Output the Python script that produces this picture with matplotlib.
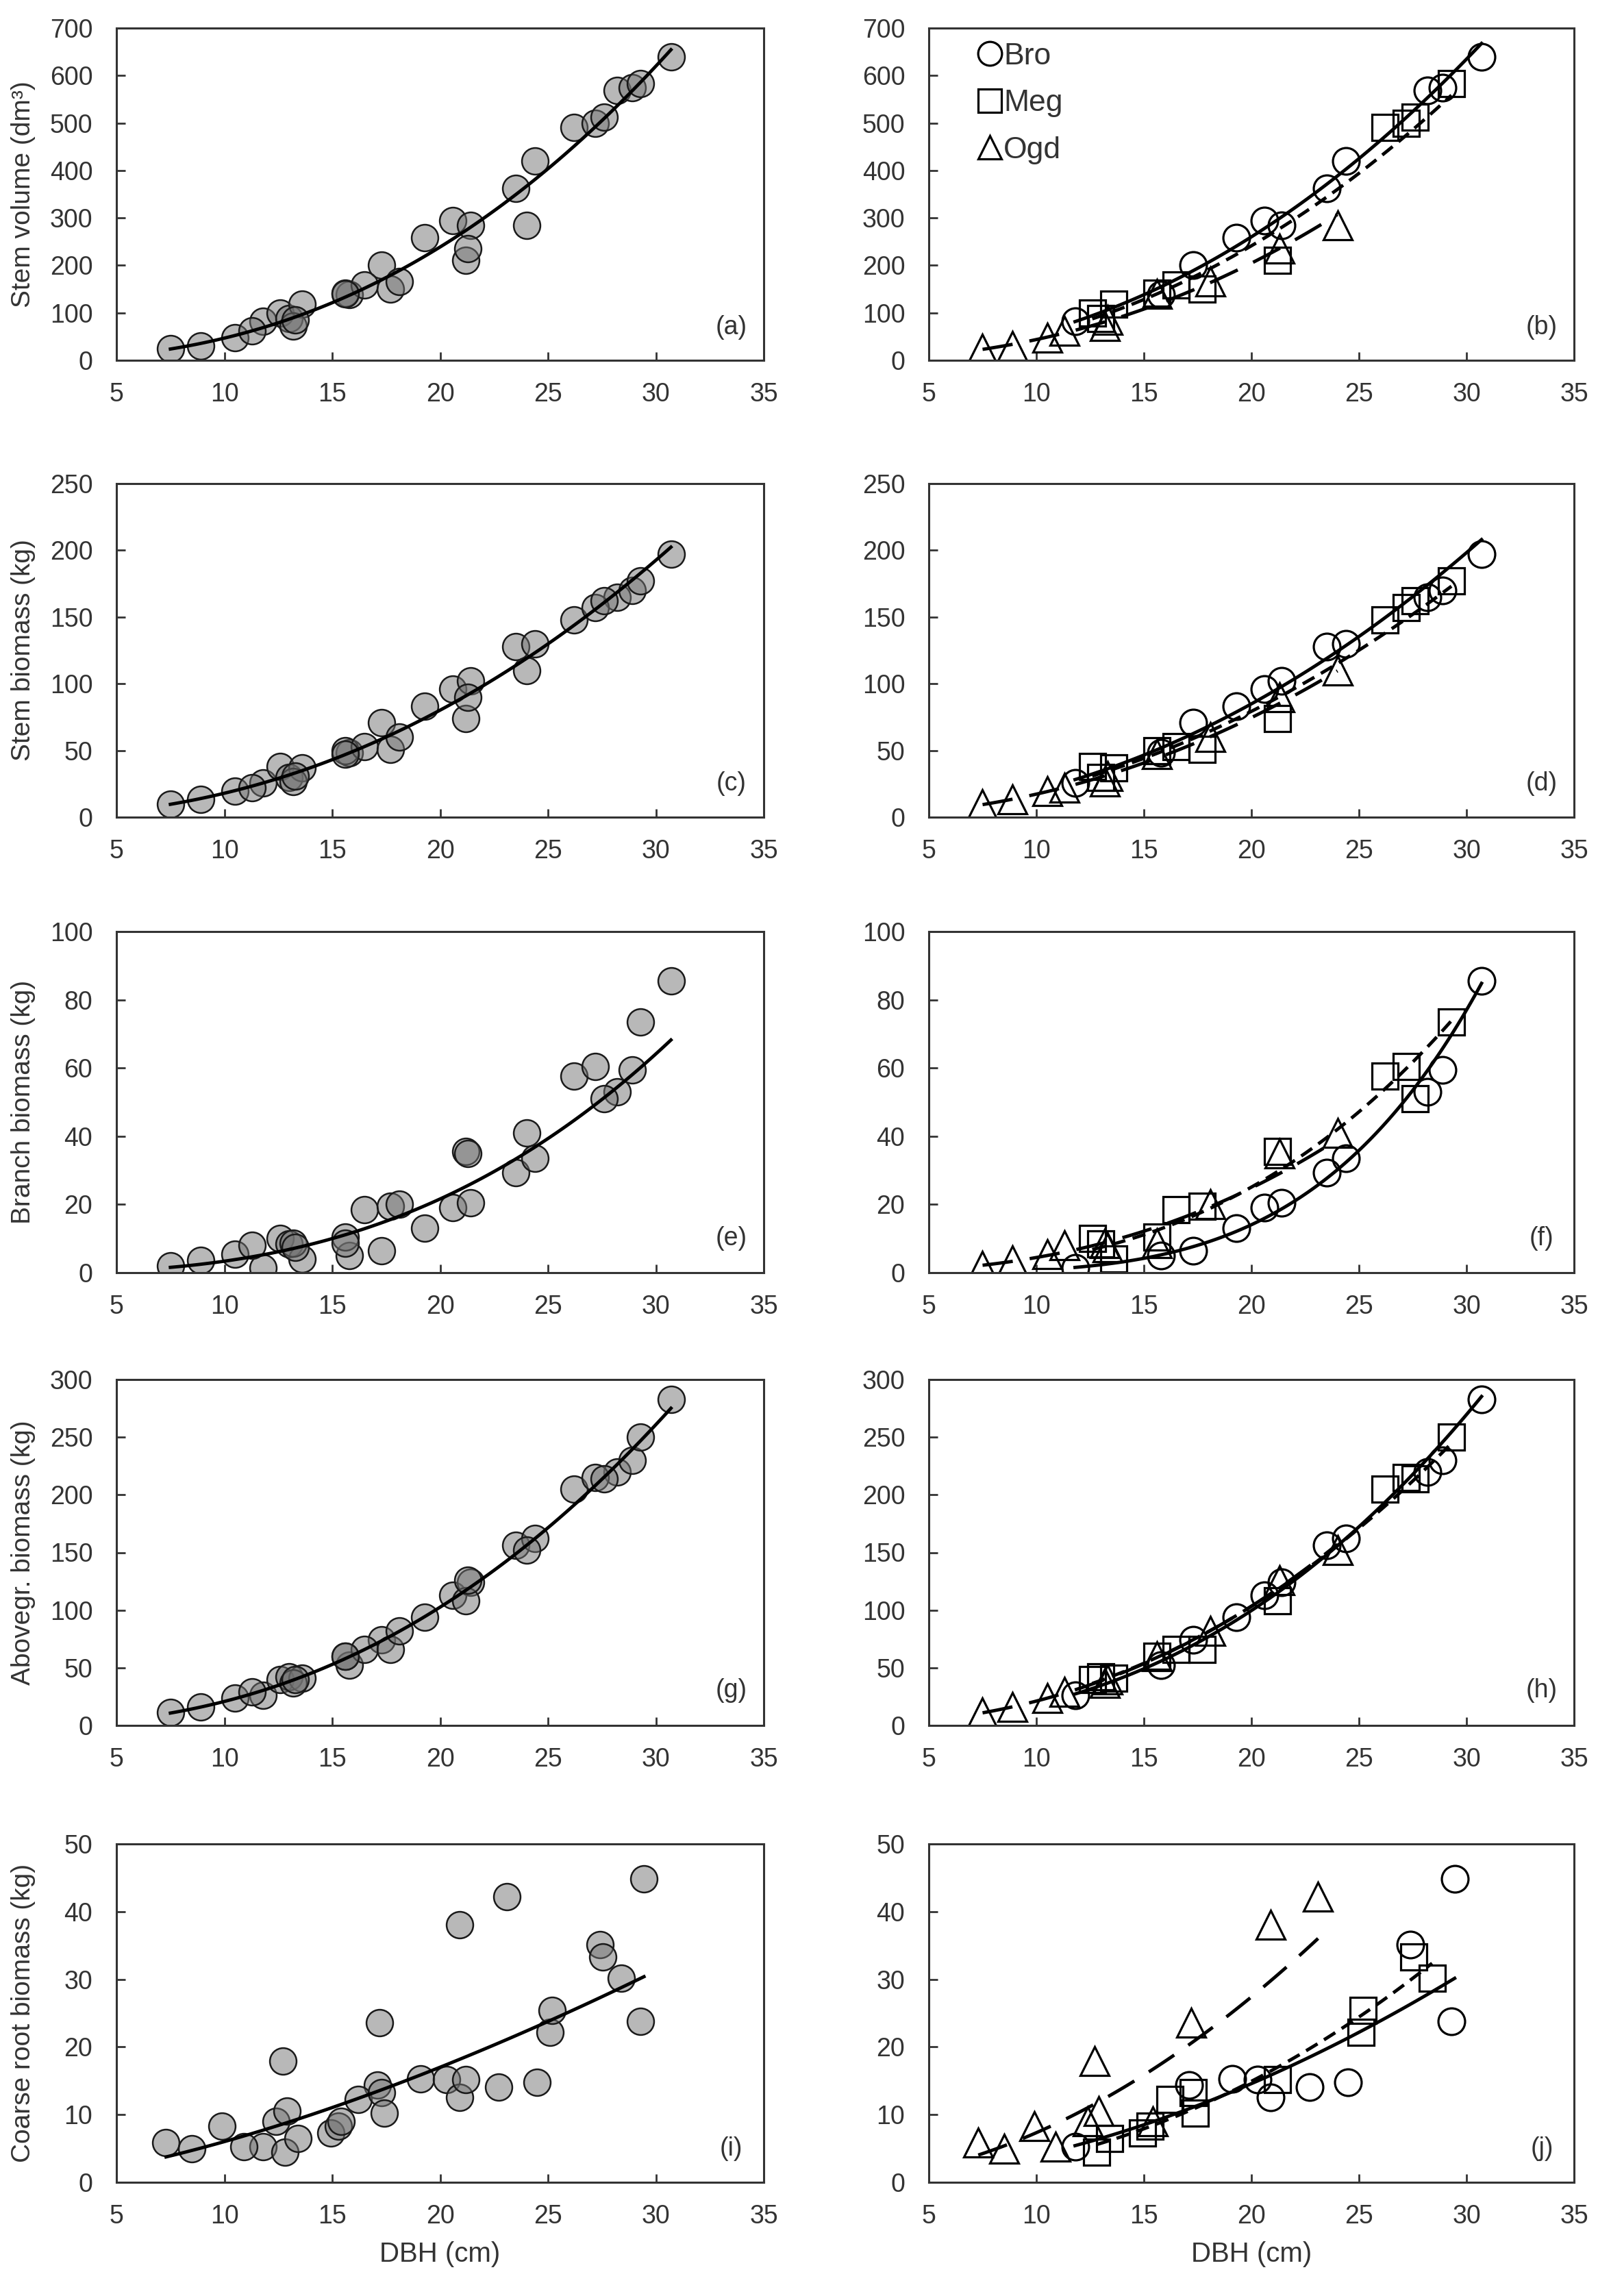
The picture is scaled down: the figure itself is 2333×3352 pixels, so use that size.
import numpy as np
import matplotlib
matplotlib.use("Agg")
import matplotlib.pyplot as plt
from matplotlib import font_manager
from matplotlib.lines import Line2D

# ---- stem data per species (DBH in cm) ----
ogd_dbh = [7.5, 8.9, 10.5, 11.3, 13.2, 13.3, 15.6, 18.1, 21.3, 24.0]
ogd_vol = [24, 30, 48, 62, 72, 85, 140, 166, 235, 284]
ogd_stem = [10, 13.5, 19.5, 22, 26.5, 31, 47, 60, 90, 110]
ogd_branch = [2.0, 3.7, 5.4, 8.0, 8.7, 7.4, 8.7, 20, 35, 41]
ogd_agb = [11, 16, 24, 29, 37, 40, 60, 82, 126, 152]

bro_dbh = [11.8, 15.8, 17.3, 19.3, 20.6, 21.4, 23.5, 24.4, 28.2, 28.9, 30.7]
bro_vol = [82, 138, 200, 258, 295, 284, 362, 420, 568, 575, 640]
bro_stem = [25.5, 48, 71, 83, 96, 102, 128, 130, 165, 170, 197]
bro_branch = [1.5, 5.0, 6.5, 13, 19, 20.5, 29.4, 33.5, 53, 59.5, 85.5]
bro_agb = [26, 52, 74, 94, 113, 124, 156, 162, 220, 230, 283]

meg_dbh = [12.6, 13.0, 13.6, 15.6, 16.5, 17.7, 21.2, 26.2, 27.2, 27.6, 29.3]
meg_vol = [99, 88, 118, 142, 159, 150, 210, 490, 500, 512, 583]
meg_stem = [38, 30, 37, 50, 53, 51, 74, 148, 157, 162, 177]
meg_branch = [10, 8.5, 4.0, 10.5, 18.5, 19.5, 35.5, 57.7, 60.5, 51, 73.5]
meg_agb = [40, 42, 41, 60, 66, 66, 108, 205, 215, 214, 250]

# ---- coarse root data (separate trees) ----
ogd_root_dbh = [7.3, 8.5, 9.9, 10.9, 12.4, 12.7, 12.9, 15.4, 17.2, 20.9, 23.1]
ogd_root = [5.9, 5.0, 8.3, 5.3, 9.0, 17.9, 10.5, 9.0, 23.6, 38.1, 42.2]
meg_root_dbh = [12.8, 13.4, 14.95, 15.3, 16.2, 17.3, 17.4, 21.2, 25.1, 25.2, 27.55, 28.4]
meg_root = [4.5, 6.5, 7.3, 8.3, 12.2, 13.3, 10.2, 15.2, 22.2, 25.4, 33.3, 30.2]
bro_root_dbh = [11.8, 17.1, 19.1, 20.3, 20.9, 22.7, 24.5, 27.4, 29.3, 29.45]
bro_root = [5.3, 14.4, 15.3, 15.2, 12.6, 14.1, 14.8, 35.1, 23.8, 44.8]

ylabels = ["Stem volume (dm\u00b3)", "Stem biomass (kg)", "Branch biomass (kg)",
           "Abovegr. biomass (kg)", "Coarse root biomass (kg)"]
ymaxes = [700, 250, 100, 300, 50]
ysteps = [100, 50, 20, 50, 10]
panel_tags = [("(a)", "(b)"), ("(c)", "(d)"), ("(e)", "(f)"), ("(g)", "(h)"), ("(i)", "(j)")]
species = ["Bro", "Meg", "Ogd"]

rows = [
    {"Bro": (bro_dbh, bro_vol), "Meg": (meg_dbh, meg_vol), "Ogd": (ogd_dbh, ogd_vol)},
    {"Bro": (bro_dbh, bro_stem), "Meg": (meg_dbh, meg_stem), "Ogd": (ogd_dbh, ogd_stem)},
    {"Bro": (bro_dbh, bro_branch), "Meg": (meg_dbh, meg_branch), "Ogd": (ogd_dbh, ogd_branch)},
    {"Bro": (bro_dbh, bro_agb), "Meg": (meg_dbh, meg_agb), "Ogd": (ogd_dbh, ogd_agb)},
    {"Bro": (bro_root_dbh, bro_root), "Meg": (meg_root_dbh, meg_root), "Ogd": (ogd_root_dbh, ogd_root)},
]

# ---- style ----
names = {f.name for f in font_manager.fontManager.ttflist}
narrow = "Liberation Sans Narrow" if "Liberation Sans Narrow" in names else "Liberation Sans"
plt.rcParams["font.family"] = ["Liberation Sans", "DejaVu Sans"]
plt.rcParams["lines.scale_dashes"] = False

markers = {"Bro": ("o", 28), "Meg": ("s", 28), "Ogd": ("^", 30)}
dashes = {"Bro": None, "Meg": (14, 8), "Ogd": (32, 18)}
txt_col = "#333333"


def power_fit(x, y):
    # allometric fit y = a * DBH^b, done in log space
    x = np.asarray(x, float)
    y = np.asarray(y, float)
    b, ln_a = np.polyfit(np.log(x), np.log(y), 1)
    xs = np.linspace(x.min(), x.max(), 120)
    return xs, np.exp(ln_a) * xs ** b


W, H = 2333, 3352
fig = plt.figure(figsize=(W / 100, H / 100), dpi=100)
cols_px = [(170, 1115), (1356, 2298)]
rows_px = [(41, 526), (706, 1193), (1360, 1858), (2014, 2519), (2692, 3186)]


def style_axes(ax, ymax, ystep):
    ax.set_xlim(5, 35)
    ax.set_ylim(0, ymax)
    ax.set_xticks(np.arange(5, 36, 5))
    ax.set_yticks(np.arange(0, ymax + 1, ystep))
    for s in ax.spines.values():
        s.set_linewidth(2.2)
        s.set_color(txt_col)
    ax.tick_params(direction="in", length=9, width=2, color=txt_col,
                   labelcolor=txt_col, labelsize=27, top=False, right=False)
    ax.tick_params(axis="x", pad=23)
    ax.tick_params(axis="y", pad=25)
    for lab in ax.get_xticklabels() + ax.get_yticklabels():
        lab.set_family(narrow)


for r, data in enumerate(rows):
    top, bot = rows_px[r]
    for c in range(2):
        x0, x1 = cols_px[c]
        ax = fig.add_axes([x0 / W, 1 - bot / H, (x1 - x0) / W, (bot - top) / H])
        style_axes(ax, ymaxes[r], ysteps[r])
        if c == 0:
            all_x = np.concatenate([data[s][0] for s in species])
            all_y = np.concatenate([data[s][1] for s in species])
            ax.plot(all_x, all_y, "o", ms=28, mfc=(0.45, 0.45, 0.45, 0.5),
                    mec="#1a1a1a", mew=1.8, zorder=2)
            fx, fy = power_fit(all_x, all_y)
            ax.plot(fx, fy, color="black", lw=3.5, zorder=3)
            ax.set_ylabel(ylabels[r], fontsize=28, color=txt_col)
            ax.yaxis.set_label_coords(-0.125, 0.5)
        else:
            for s in species:
                mk, ms = markers[s]
                ax.plot(data[s][0], data[s][1], mk, ms=ms, mfc="none",
                        mec="black", mew=2.3, zorder=2)
            for s in species:
                fx, fy = power_fit(*data[s])
                ln, = ax.plot(fx, fy, color="black", lw=3.5, zorder=3)
                if dashes[s]:
                    ln.set_dashes(dashes[s])
        if r == 4:
            ax.set_xlabel("DBH (cm)", fontsize=29, color=txt_col)
            ax.xaxis.set_label_coords(0.5, -0.175)
        ax.text(0.95, 0.10, panel_tags[r][c], transform=ax.transAxes, ha="center",
                va="center", fontsize=27, family=narrow, color=txt_col)
        if r == 0 and c == 1:
            handles = [Line2D([], [], ls="none", marker=markers[s][0], ms=25,
                              mfc="none", mec="black", mew=2.3) for s in species]
            ax.legend(handles, species, loc="upper left", bbox_to_anchor=(0.05, 1.012),
                      frameon=False, fontsize=32, handlelength=0.7, handletextpad=0.1,
                      labelspacing=0.62, borderaxespad=0.2, labelcolor=txt_col)

fig.savefig("out.png", dpi=100)
